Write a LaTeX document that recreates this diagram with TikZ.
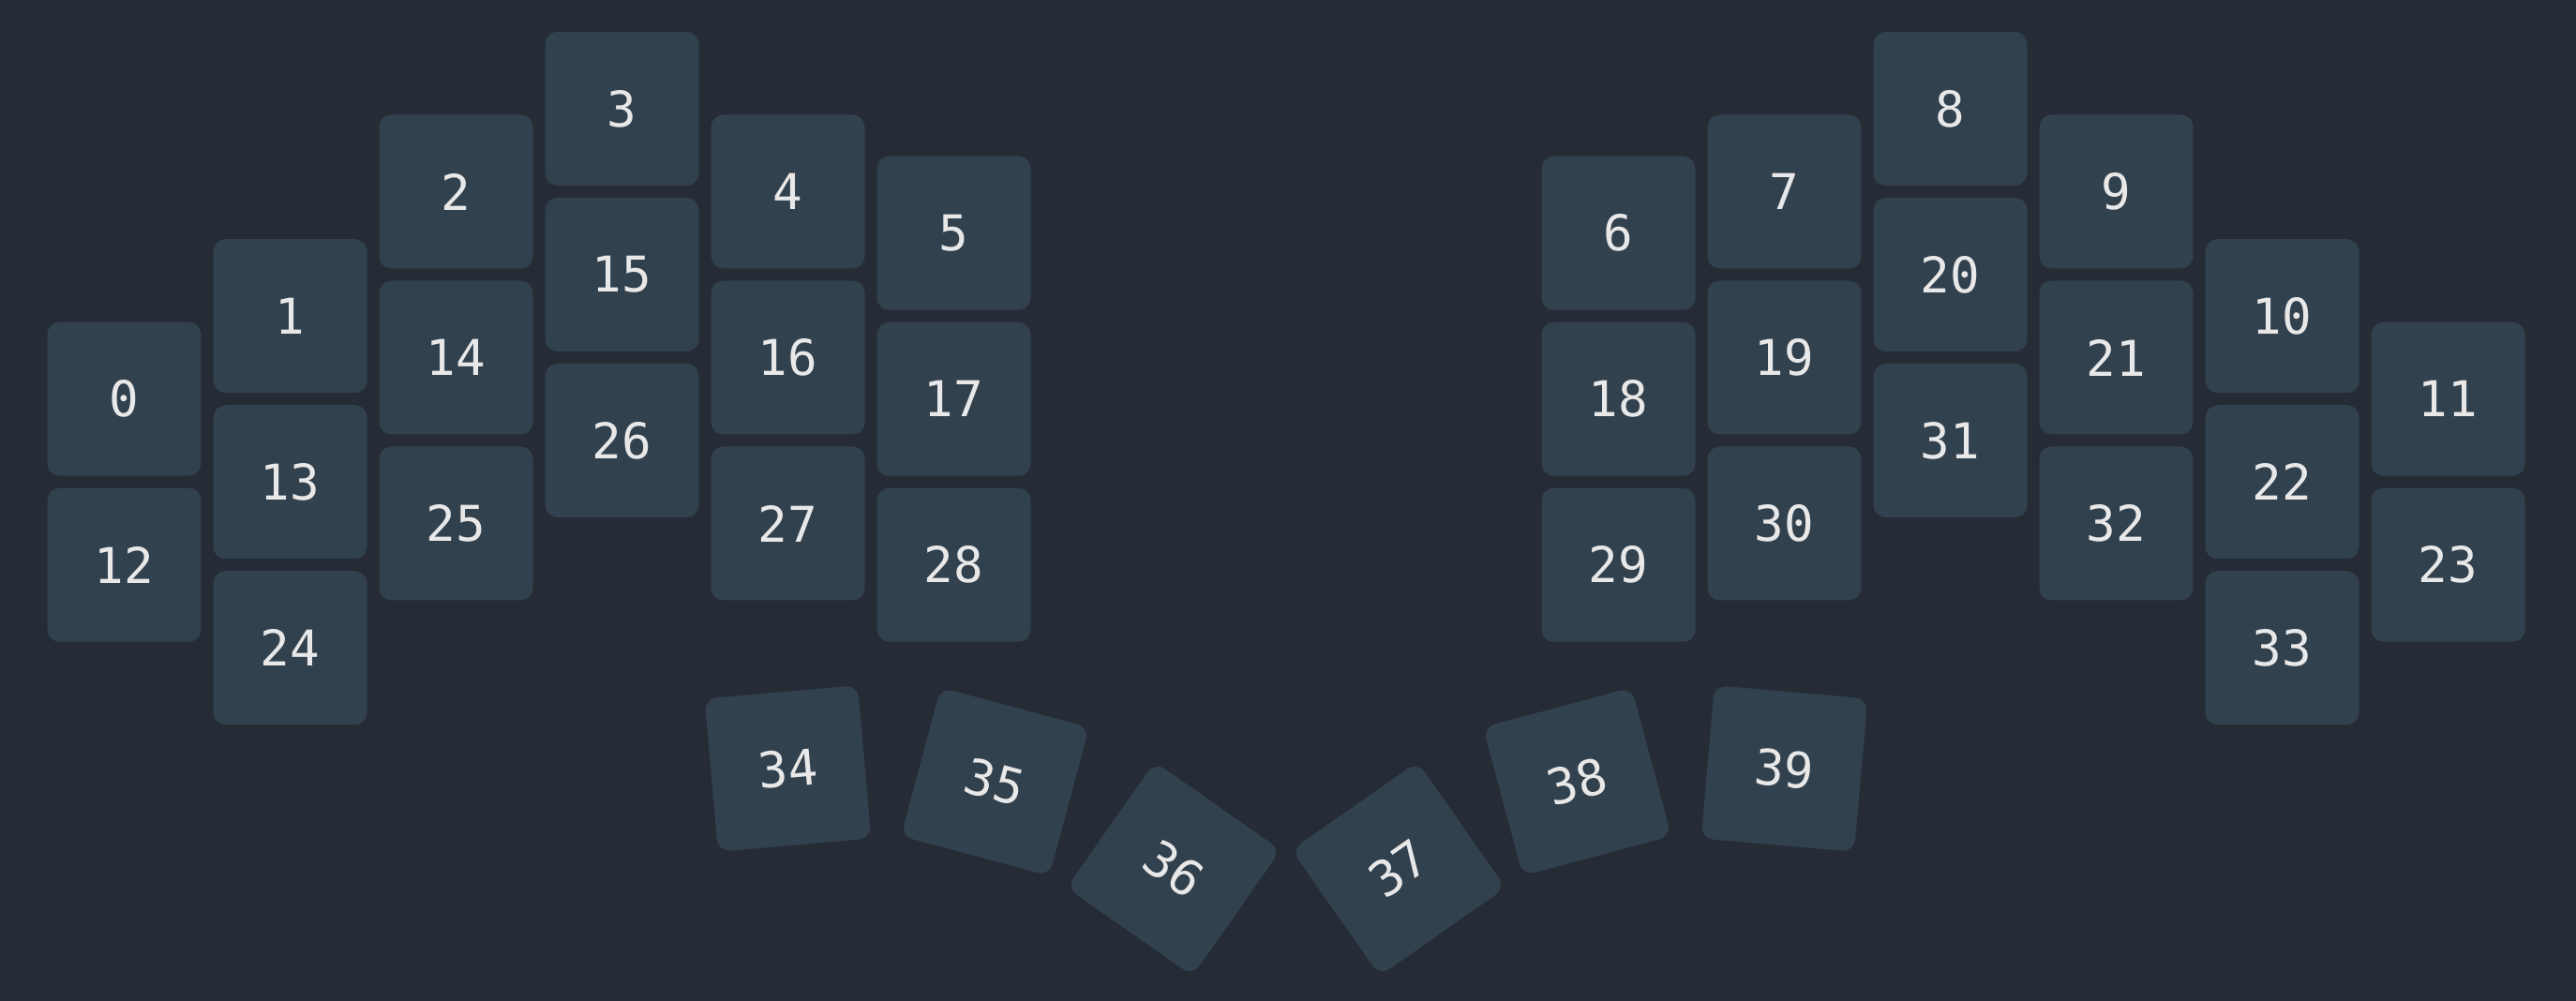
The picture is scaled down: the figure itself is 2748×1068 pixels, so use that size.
\documentclass[tikz,border=0pt]{standalone}
\usepackage{fontspec}
\setmonofont{DejaVu Sans Mono}
\definecolor{bgc}{HTML}{252C36}
\definecolor{keyc}{HTML}{32414E}
\definecolor{txtc}{HTML}{E8E8E8}
\begin{document}
\begin{tikzpicture}[x=0.5pt,y=-0.5pt,
  keybox/.style={fill=keyc, draw=none, rounded corners=6.5pt,
    minimum width=82pt, minimum height=82pt, inner sep=0pt,
    text=txtc, font=\ttfamily\fontsize{26.3}{30}\selectfont, anchor=center}]
\fill[bgc] (0,0) rectangle (2748,1068);
\useasboundingbox (0,0) rectangle (2748,1068);
\foreach \n/\x/\y/\r in {
  0/132.5/425.75/0, 1/309.5/337.25/0, 2/486.5/204.5/0, 3/663.5/116/0, 4/840.5/204.5/0, 5/1017.5/248.75/0,
  6/1726.5/248.75/0, 7/1903.5/204.5/0, 8/2080.5/116/0, 9/2257.5/204.5/0, 10/2434.5/337.25/0, 11/2611.5/425.75/0,
  12/132.5/602.75/0, 13/309.5/514.25/0, 14/486.5/381.5/0, 15/663.5/293/0, 16/840.5/381.5/0, 17/1017.5/425.75/0,
  18/1726.5/425.75/0, 19/1903.5/381.5/0, 20/2080.5/293/0, 21/2257.5/381.5/0, 22/2434.5/514.25/0, 23/2611.5/602.75/0,
  24/309.5/691.25/0, 25/486.5/558.5/0, 26/663.5/470/0, 27/840.5/558.5/0, 28/1017.5/602.75/0,
  29/1726.5/602.75/0, 30/1903.5/558.5/0, 31/2080.5/470/0, 32/2257.5/558.5/0, 33/2434.5/691.25/0,
  34/840.5/820/5, 35/1061.5/834/-15, 36/1252/927/-35, 37/1492/927/35, 38/1682.5/834/15, 39/1903.5/820/-5}
{
  \node[keybox, rotate=\r] (k\n) at (\x,\y) {\n};
}
\end{tikzpicture}
\end{document}
